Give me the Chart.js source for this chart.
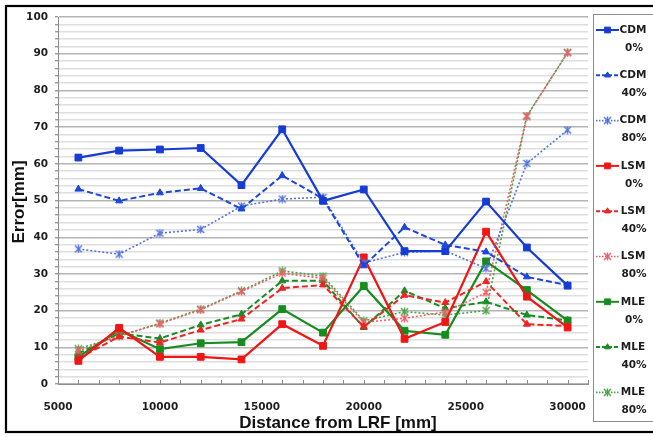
<!DOCTYPE html>
<html>
<head>
<meta charset="utf-8">
<script src="https://cdn.jsdelivr.net/npm/chart.js@4/dist/chart.umd.min.js"></script>
<style>
  html, body { margin: 0; padding: 0; background: #fff; }
  #wrap { width: 653px; height: 437px; position: relative; }
</style>
</head>
<body>
<div id="wrap"><canvas id="c" width="653" height="437"></canvas></div>
<script>
// Distance from the laser range finder [mm]
const distances = [6000, 8000, 10000, 12000, 14000, 16000, 18000, 20000, 22000, 24000, 26000, 28000, 30000];

// Error [mm] per method and occlusion ratio
const cdm0  = [61.7, 63.6, 63.9, 64.3, 54.2, 69.4, 49.9, 53.0, 36.2, 36.2, 49.7, 37.2, 26.8];
const cdm40 = [53.1, 49.9, 52.1, 53.3, 47.7, 56.8, 50.5, 32.2, 42.7, 37.9, 36.0, 29.2, 26.9];
const cdm80 = [36.8, 35.4, 41.1, 42.1, 48.5, 50.4, 50.9, 33.0, 35.9, 36.3, 31.5, 60.1, 69.2];
const lsm0  = [6.3, 15.3, 7.4, 7.4, 6.7, 16.3, 10.4, 34.5, 12.3, 16.9, 41.5, 23.8, 15.4];
const lsm40 = [7.0, 12.9, 11.3, 14.7, 17.7, 26.1, 27.0, 15.6, 24.2, 22.2, 27.9, 16.3, 15.8];
const lsm80 = [9.0, 13.2, 16.4, 20.2, 25.2, 30.2, 28.8, 16.8, 17.9, 19.6, 24.9, 73.0, 90.3];
const mle0  = [7.4, 14.7, 9.5, 11.1, 11.4, 20.4, 14.0, 26.7, 14.5, 13.4, 33.4, 25.6, 17.3];
const mle40 = [8.3, 13.8, 12.4, 16.1, 19.0, 28.1, 28.1, 15.4, 25.4, 20.6, 22.4, 18.8, 17.3];
const mle80 = [9.6, 13.0, 16.6, 20.4, 25.4, 30.8, 29.4, 17.2, 19.7, 18.8, 20.0, 73.0, 90.3];

const methods = ['CDM', 'LSM', 'MLE'];
const ratios = ['0%', '40%', '80%'];

const xTitle = 'Distance from LRF [mm]';
const yTitle = 'Error[mm]';

const colors = {
  CDM: ['rgb(22,60,210)', 'rgb(30,70,215)', 'rgb(85,115,220)'],
  LSM: ['rgb(240,22,22)', 'rgb(238,35,35)', 'rgb(240,95,105)'],
  MLE: ['rgb(22,140,30)', 'rgb(25,140,35)', 'rgb(70,165,70)']
};

// Asterisk-like marker: an X with a vertical stroke
function starMarker(color) {
  const c = document.createElement('canvas');
  c.width = 9; c.height = 9;
  const g = c.getContext('2d');
  g.strokeStyle = color;
  g.lineWidth = 1.4;
  g.beginPath();
  g.moveTo(1, 1); g.lineTo(8, 8);
  g.moveTo(8, 1); g.lineTo(1, 8);
  g.moveTo(4.5, 0.5); g.lineTo(4.5, 8.5);
  g.stroke();
  return c;
}

const seriesValues = {
  CDM: [cdm0, cdm40, cdm80],
  LSM: [lsm0, lsm40, lsm80],
  MLE: [mle0, mle40, mle80]
};

const datasets = [];
methods.forEach(m => {
  ratios.forEach((r, i) => {
    const col = colors[m][i];
    const style = i === 0 ? 'rect' : (i === 1 ? 'triangle' : starMarker(col));
    datasets.push({
      label: m + '\n' + r,
      data: distances.map((d, k) => ({ x: d, y: seriesValues[m][i][k] })),
      borderColor: col,
      backgroundColor: col,
      pointBackgroundColor: col,
      pointBorderColor: col,
      borderWidth: i === 0 ? 2.2 : (i === 1 ? 2 : 1.6),
      borderDash: i === 0 ? [] : (i === 1 ? [6, 3] : [2, 2]),
      pointStyle: style,
      pointRadius: i === 0 ? 4.8 : (i === 1 ? 4 : 4.5),
      pointBorderWidth: 1,
      tension: 0
    });
  });
});

// Frame, axis titles, inside tick marks and the legend box
const decorations = {
  id: 'decorations',
  beforeDraw(chart) {
    const ctx = chart.ctx;
    ctx.save();
    ctx.fillStyle = '#fff';
    ctx.fillRect(0, 0, chart.width, chart.height);
    ctx.restore();
  },
  afterDraw(chart) {
    const ctx = chart.ctx;
    const area = chart.chartArea;
    const xs = chart.scales.x;
    ctx.save();

    // minor tick marks on the x axis, drawn inward
    ctx.strokeStyle = '#8c8c8c';
    ctx.lineWidth = 1;
    xs.ticks.forEach(t => {
      const px = Math.round(xs.getPixelForValue(t.value)) + 0.5;
      ctx.beginPath();
      ctx.moveTo(px, area.bottom + 1);
      ctx.lineTo(px, area.bottom - 4);
      ctx.stroke();
    });

    // axis titles
    ctx.fillStyle = '#111';
    ctx.font = 'bold 17px "Liberation Sans", Arial, sans-serif';
    ctx.textAlign = 'center';
    ctx.textBaseline = 'middle';
    ctx.fillText(xTitle, 338, 423);
    ctx.save();
    ctx.translate(19, 202);
    ctx.rotate(-Math.PI / 2);
    ctx.fillText(yTitle, 0, 0);
    ctx.restore();

    // legend box
    ctx.strokeStyle = '#8a8a8a';
    ctx.lineWidth = 1;
    ctx.strokeRect(593.5, 14.5, 80, 407);

    const helpers = Chart.helpers;
    chart.data.datasets.forEach((ds, idx) => {
      const y = 30 + idx * 45.3;
      ctx.save();
      ctx.strokeStyle = ds.borderColor;
      ctx.lineWidth = Math.min(ds.borderWidth, 2);
      ctx.setLineDash(ds.borderDash.length ? (ds.borderDash[0] > 3 ? [4, 2] : [1.5, 1.5]) : []);
      ctx.beginPath();
      ctx.moveTo(596, y);
      ctx.lineTo(619, y);
      ctx.stroke();
      ctx.setLineDash([]);
      ctx.fillStyle = ds.pointBackgroundColor;
      ctx.strokeStyle = ds.pointBorderColor;
      ctx.lineWidth = 1;
      helpers.drawPoint(ctx, {
        pointStyle: ds.pointStyle,
        radius: ds.pointRadius * 0.85,
        rotation: 0,
        borderWidth: 1
      }, 607.5, y);
      ctx.restore();

      const lines = ds.label.split('\n');
      ctx.fillStyle = '#1e1e1e';
      ctx.font = 'bold 10.5px "DejaVu Sans", Verdana, sans-serif';
      ctx.textAlign = 'center';
      ctx.textBaseline = 'middle';
      ctx.fillText(lines[0], 633, y);
      ctx.fillText(lines[1], 634, y + 18);
    });

    // outer frame
    ctx.strokeStyle = '#000';
    ctx.lineWidth = 2.2;
    ctx.strokeRect(6, 6, 700, 426);
    ctx.restore();
  }
};

const tickFont = { family: '"DejaVu Sans", Verdana, sans-serif', size: 10.5, weight: 'bold' };

new Chart(document.getElementById('c'), {
  type: 'line',
  data: { datasets },
  options: {
    responsive: false,
    animation: false,
    events: [],
    layout: { padding: { left: 0, top: 17, right: 65, bottom: 0 } },
    plugins: {
      legend: { display: false },
      tooltip: { enabled: false }
    },
    scales: {
      x: {
        type: 'linear',
        min: 5000,
        max: 31000,
        afterFit(scale) { scale.height = 53; },
        border: { display: true, color: '#8c8c8c', width: 1 },
        grid: { display: true, drawOnChartArea: false, drawTicks: false },
        ticks: {
          stepSize: 1000,
          autoSkip: false,
          maxRotation: 0,
          padding: 17,
          color: '#1e1e1e',
          font: tickFont,
          callback: v => (v % 5000 === 0 && v <= 30000) ? String(v) : ''
        }
      },
      y: {
        min: 0,
        max: 100,
        afterFit(scale) { scale.width = 58; },
        border: { display: true, color: '#8c8c8c', width: 1 },
        grid: {
          color: c => (c.tick && c.tick.value % 10 === 0) ? '#b4b4b4' : '#dedede',
          lineWidth: 1.4,
          tickLength: 3,
          tickColor: '#9a9a9a'
        },
        ticks: {
          stepSize: 2,
          autoSkip: false,
          padding: 7,
          color: '#1e1e1e',
          font: tickFont,
          callback: v => (v % 10 === 0) ? String(v) : ''
        }
      }
    }
  },
  plugins: [decorations]
});
</script>
</body>
</html>
